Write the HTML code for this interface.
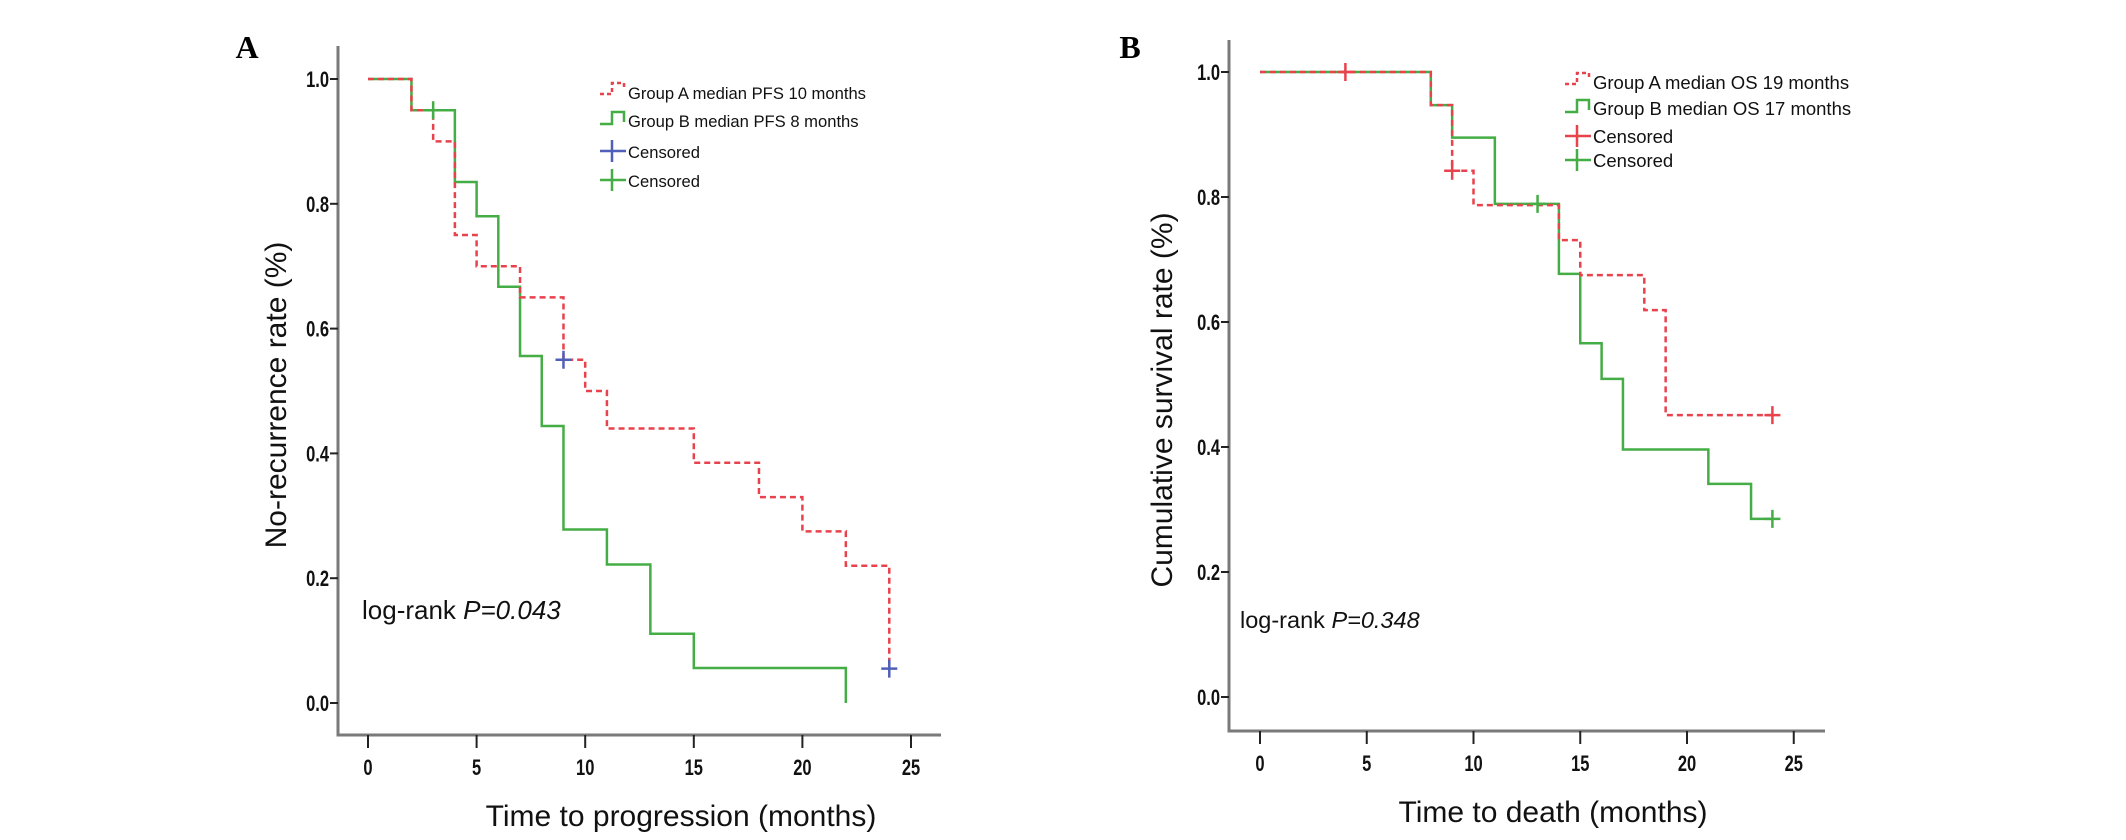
<!DOCTYPE html>
<html><head><meta charset="utf-8"><style>
html,body{margin:0;padding:0;background:#fff;}
svg{display:block;font-family:"Liberation Sans",Arial,sans-serif;}
</style></head><body>
<svg id="fig" width="2126" height="840" viewBox="0 0 2126 840">
<text x="247" y="58" font-family="Liberation Serif,serif" font-weight="bold" font-size="32" text-anchor="middle">A</text>
<text x="1130" y="58" font-family="Liberation Serif,serif" font-weight="bold" font-size="32" text-anchor="middle">B</text>
</svg>
<script>
// ---- Data: Panel A (PFS) ----
const xTicks = [0, 5, 10, 15, 20, 25];
const yTicks = [0.0, 0.2, 0.4, 0.6, 0.8, 1.0];
const yTickLabels = ["0.0", "0.2", "0.4", "0.6", "0.8", "1.0"];
const aGroupATimes = [0, 2, 3, 4, 5, 7, 9, 10, 11, 15, 18, 20, 22, 24];
const aGroupAValues = [1.0, 0.95, 0.90, 0.75, 0.70, 0.65, 0.55, 0.50, 0.44, 0.385, 0.33, 0.275, 0.22, 0.055];
const aGroupBTimes = [0, 2, 4, 5, 6, 7, 8, 9, 11, 13, 15, 22];
const aGroupBValues = [1.0, 0.95, 0.835, 0.78, 0.667, 0.556, 0.444, 0.278, 0.222, 0.111, 0.056, 0.0];
const aCensorATimes = [9, 24];
const aCensorAValues = [0.55, 0.055];
const aCensorBTimes = [3];
const aCensorBValues = [0.95];
// ---- Data: Panel B (OS) ----
const bGroupATimes = [0, 8, 9, 10, 14, 15, 18, 19, 24];
const bGroupAValues = [1.0, 0.947, 0.842, 0.787, 0.731, 0.675, 0.619, 0.451, 0.451];
const bGroupBTimes = [0, 8, 9, 11, 14, 15, 16, 17, 21, 23, 24];
const bGroupBValues = [1.0, 0.947, 0.895, 0.789, 0.677, 0.566, 0.509, 0.396, 0.341, 0.285, 0.285];
const bCensorATimes = [4, 9, 24];
const bCensorAValues = [1.0, 0.842, 0.451];
const bCensorBTimes = [13, 24];
const bCensorBValues = [0.789, 0.285];

const NS = "http://www.w3.org/2000/svg";
const svg = document.getElementById("fig");
const RED = "#e8424c", GREEN = "#45ad45", BLUE = "#5060b8", AXIS = "#7a7a7a";
function el(tag, attrs, parent) {
  const e = document.createElementNS(NS, tag);
  for (const k in attrs) e.setAttribute(k, attrs[k]);
  (parent || svg).appendChild(e);
  return e;
}
function stepPath(times, vals, sx, sy) {
  let d = "M" + sx(times[0]) + "," + sy(vals[0]);
  for (let i = 1; i < times.length; i++) {
    d += " H" + sx(times[i]) + " V" + sy(vals[i]);
  }
  return d;
}
function panel(cfg) {
  const g = el("g", {});
  
  
  const sx = t => cfg.x0 + t * cfg.px;
  const sy = v => cfg.y0 - v * (cfg.y0 - cfg.y1);
  const ya = el("line", {x1: cfg.ax, y1: cfg.top, x2: cfg.ax, y2: cfg.base, stroke: AXIS, "stroke-width": 3}, g);
  
  
  const xa = el("line", {x1: cfg.ax - 1.5, y1: cfg.base, x2: cfg.right, y2: cfg.base, stroke: AXIS, "stroke-width": 3}, g);
  
  
  yTicks.forEach((v, i) => {
    const y = sy(v);
    el("line", {x1: cfg.ax - 8, y1: y, x2: cfg.ax, y2: y, stroke: "#222", "stroke-width": 2}, g);
    const t = el("text", {x: 0, y: 0, "font-size": 22, "font-weight": "bold", "text-anchor": "end", fill: "#111",
      transform: "translate(" + (cfg.ax - 9) + "," + (y + 8) + ") scale(0.75,1)"}, g);
    t.textContent = yTickLabels[i];
    
    
  });
  xTicks.forEach(v => {
    const x = sx(v);
    el("line", {x1: x, y1: cfg.base, x2: x, y2: cfg.base + 13, stroke: "#222", "stroke-width": 2}, g);
    const t = el("text", {x: 0, y: 0, "font-size": 22, "font-weight": "bold", "text-anchor": "middle", fill: "#111",
      transform: "translate(" + x + "," + (cfg.base + 40) + ") scale(0.75,1)"}, g);
    t.textContent = String(v);
    
    
  });
  const xt = el("text", {x: cfg.xtX, y: cfg.xtY, "font-size": 30, "text-anchor": "middle", fill: "#111"}, g);
  xt.textContent = cfg.xTitle;
  
  
  const yt = el("text", {x: 0, y: 0, "font-size": 30, "text-anchor": "middle", fill: "#111",
    transform: "translate(" + cfg.ytX + "," + cfg.ytY + ") rotate(-90)"}, g);
  yt.textContent = cfg.yTitle;
  
  
  const pb = el("path", {d: stepPath(cfg.bT, cfg.bV, sx, sy), fill: "none", stroke: GREEN, "stroke-width": 2.5}, g);
  
  
  const pa = el("path", {d: stepPath(cfg.aT, cfg.aV, sx, sy), fill: "none", stroke: RED, "stroke-width": 2.5, "stroke-dasharray": "6,4"}, g);
  
  
  function censor(ts, vs, col, nm) {
    ts.forEach((t, i) => {
      const x = sx(t), y = sy(vs[i]);
      const c = el("path", {d: "M" + (x - 8) + "," + y + " H" + (x + 8) + " M" + x + "," + (y - 9) + " V" + (y + 9), stroke: col, "stroke-width": 2.5, fill: "none"}, g);
      
      
    });
  }
  censor(cfg.caT, cfg.caV, cfg.censorACol, 'censor-mark-group-a');
  censor(cfg.cbT, cfg.cbV, GREEN, 'censor-mark-group-b');
  const lg = el("g", {}, g);
  
  
  const lx = cfg.legX, rows = cfg.legRows;
  const items = [
    {lab: cfg.legA, kind: "stepA"}, {lab: cfg.legB, kind: "stepB"},
    {lab: "Censored", kind: "cross", col: cfg.censorACol}, {lab: "Censored", kind: "cross", col: GREEN}
  ];
  items.forEach((it, i) => {
    const y = rows[i];
    if (it.kind === "stepA") el("path", {d: "M" + lx + "," + (y + 2) + " H" + (lx + 12) + " V" + (y - 9) + " H" + (lx + 24) + " V" + (y - 2), fill: "none", stroke: RED, "stroke-width": 2.5, "stroke-dasharray": "4,3"}, lg);
    else if (it.kind === "stepB") el("path", {d: "M" + lx + "," + (y + 4) + " H" + (lx + 12) + " V" + (y - 8) + " H" + (lx + 24) + " V" + (y + 2), fill: "none", stroke: GREEN, "stroke-width": 2.5}, lg);
    else el("path", {d: "M" + lx + "," + y + " H" + (lx + 26) + " M" + (lx + 12) + "," + (y - 11) + " V" + (y + 11), fill: "none", stroke: it.col, "stroke-width": 2.5}, lg);
    const t = el("text", {x: lx + cfg.legGap, y: y + 7, "font-size": cfg.legFont, fill: "#111"}, lg);
    t.textContent = it.lab;
    
    
  });
  const pv = el("text", {x: cfg.pX, y: cfg.pY, "font-size": cfg.pFont, fill: "#111"}, g);
  
  
  pv.appendChild(document.createTextNode("log-rank "));
  const it = el("tspan", {"font-style": "italic"}, pv);
  it.textContent = cfg.pText;
}
panel({name: "panel-a-pfs-chart", ax: 338, top: 46, base: 735, right: 941, x0: 368, px: 21.72, y0: 703, y1: 79,
  xTitle: "Time to progression (months)", yTitle: "No-recurrence rate (%)", xtX: 681, xtY: 826, ytX: 286, ytY: 395,
  aT: aGroupATimes, aV: aGroupAValues, bT: aGroupBTimes, bV: aGroupBValues,
  caT: aCensorATimes, caV: aCensorAValues, cbT: aCensorBTimes, cbV: aCensorBValues, censorACol: BLUE,
  legX: 600, legGap: 28, legFont: 16.6, legRows: [92, 120, 151, 180], legA: "Group A median PFS 10 months", legB: "Group B median PFS 8 months",
  pX: 362, pY: 619, pFont: 26, pText: "P=0.043"});
panel({name: "panel-b-os-chart", ax: 1229, top: 40, base: 731, right: 1825, x0: 1260, px: 21.35, y0: 697, y1: 72,
  xTitle: "Time to death (months)", yTitle: "Cumulative survival rate (%)", xtX: 1553, xtY: 822, ytX: 1172, ytY: 400,
  aT: bGroupATimes, aV: bGroupAValues, bT: bGroupBTimes, bV: bGroupBValues,
  caT: bCensorATimes, caV: bCensorAValues, cbT: bCensorBTimes, cbV: bCensorBValues, censorACol: RED,
  legX: 1565, legGap: 28, legFont: 18.5, legRows: [82, 108, 136, 160], legA: "Group A median OS 19 months", legB: "Group B median OS 17 months",
  pX: 1240, pY: 628, pFont: 23.5, pText: "P=0.348"});
</script>
</body></html>
